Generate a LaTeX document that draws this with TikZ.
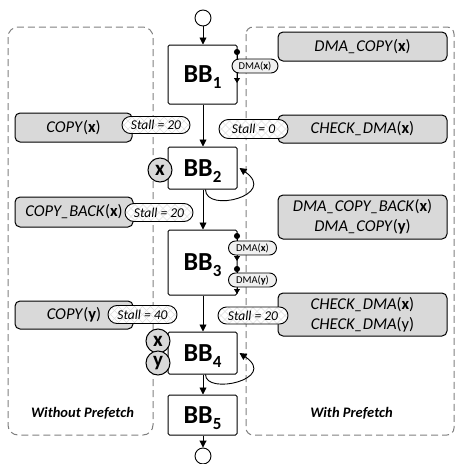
\documentclass[tikz,border=0pt]{standalone}
\usepackage{fontspec}
\setmainfont{Carlito}
\usetikzlibrary{arrows.meta,shapes.misc,calc}
\definecolor{boxgray}{HTML}{D9D9D9}
\definecolor{pillgray}{HTML}{F0F0F0}
\definecolor{dashgray}{HTML}{808080}
\newcommand{\bbsub}[1]{\raisebox{-6pt}[0pt][0pt]{\fontsize{17}{17}\selectfont #1}}
\begin{document}
\begin{tikzpicture}[x=1pt,y=1pt,
  arr/.style={line width=0.9pt,-{Triangle[length=7pt,width=7pt]}},
  dmaarr/.style={line width=0.9pt,{Circle[length=6pt]}-{Triangle[length=5pt,width=6pt]}},
  bbbox/.style={draw,line width=1pt,rounded corners=1.5pt,minimum width=69pt,inner sep=0pt,
    font=\fontsize{26}{26}\selectfont\bfseries},
  graybox/.style={draw,line width=1pt,fill=boxgray,rounded corners=5pt,inner sep=0pt,
    align=center,font=\fontsize{16.5}{20}\selectfont},
  stallpill/.style={draw,line width=0.9pt,rounded rectangle,fill=white,inner sep=0pt,
    minimum height=18pt,minimum width=68pt,font=\fontsize{13.5}{14}\selectfont\itshape,
    path picture={\foreach \k in {-96,-88,...,96}{\draw[black!12,line width=0.5pt]
      ([shift={(\k-12,-12)}]path picture bounding box.center) -- ++(24,24)
      ([shift={(\k-12,12)}]path picture bounding box.center) -- ++(24,-24);}}},
  dmapill/.style={draw,line width=0.9pt,rounded rectangle,fill=pillgray,inner sep=0pt,
    minimum height=14pt,minimum width=48pt,font=\fontsize{10.5}{11}\selectfont},
  varcirc/.style={draw,line width=1pt,circle,fill=boxgray,minimum size=24pt,inner sep=0pt,
    font=\fontsize{21}{21}\selectfont\bfseries},
  endcirc/.style={draw,line width=0.9pt,circle,fill=white,minimum size=16pt,inner sep=0pt},
  region/.style={draw=dashgray,line width=1pt,dash pattern=on 7pt off 4pt},
  regionlabel/.style={font=\fontsize{14.5}{15}\selectfont\bfseries\itshape}
]
\useasboundingbox (0,0) rectangle (455,-464);
\clip (0,0) rectangle (455,-464);

% regions
\draw[region,rounded corners=10pt] (8,-27) rectangle (153,-435);
\draw[region,rounded corners=7pt] (246,-27) rectangle (454,-435);
\node[regionlabel] (lwo) at (82.5,-413) {Without Prefetch};
\node[regionlabel] (lw) at (351.5,-413) {With Prefetch};

% basic blocks
\node[bbbox,minimum height=59pt] (BB1) at (202.5,-74.5) {BB\bbsub{1}};
\node[bbbox,minimum height=42pt] (BB2) at (202.5,-168) {BB\bbsub{2}};
\node[bbbox,minimum height=65pt] (BB3) at (202.5,-262.5) {BB\bbsub{3}};
\node[bbbox,minimum height=42pt] (BB4) at (202.5,-353) {BB\bbsub{4}};
\node[bbbox,minimum height=40pt] (BB5) at (202.5,-415) {BB\bbsub{5}};
\node[endcirc] (top) at (203,-18) {};
\node[endcirc] (bot) at (203,-456) {};

% main flow
\draw[arr] (top) -- (top |- BB1.north);
\draw[arr] (BB1.south -| top) -- (BB2.north -| top);
\draw[arr] (BB2.south -| top) -- (BB3.north -| top);
\draw[arr] (BB3.south -| top) -- (BB4.north -| top);
\draw[arr] (BB4.south -| top) -- (BB5.north -| top);
\draw[arr] (BB5.south -| top) -- (bot);

% self loops
\draw[arr] ($(BB2.south)+(3,0)$) .. controls ($(BB2.south)+(3,-24)$) and ($(BB2.east)+(41,-27)$) .. ($(BB2.east)+(2,0)$);
\draw[arr] ($(BB4.south)+(3,0)$) .. controls ($(BB4.south)+(3,-21)$) and ($(BB4.east)+(41,-26)$) .. ($(BB4.east)+(2,0)$);

% DMA transfers
\coordinate (d1s) at (237,-49);
\coordinate (d1e) at (237,-83);
\coordinate (d2s) at (237,-233);
\coordinate (d2e) at (237,-261);
\coordinate (d3s) at (237,-266);
\coordinate (d3e) at (237,-294);
\draw[dmaarr] (d1s) -- (d1e);
\draw[dmaarr] (d2s) -- (d2e);
\draw[dmaarr] (d3s) -- (d3e);

% gray operation boxes
\node[graybox,minimum width=117pt,minimum height=29pt] (cpx) at (73.5,-127.5) {\textit{COPY}(\textbf{x})};
\node[graybox,minimum width=118pt,minimum height=30pt] (cpbx) at (74,-212) {\textit{COPY\_BACK}(\textbf{x})};
\node[graybox,minimum width=118pt,minimum height=28pt] (cpy) at (74,-315) {\textit{COPY}(\textbf{y})};
\node[graybox,minimum width=169pt,minimum height=29pt] (dcx) at (362.5,-46.5) {\textit{DMA\_COPY}(\textbf{x})};
\node[graybox,minimum width=169pt,minimum height=28pt] (chx) at (362.5,-129) {\textit{CHECK\_DMA}(\textbf{x})};
\node[graybox,minimum width=169pt,minimum height=44pt] (dcb) at (362.5,-217) {\textit{DMA\_COPY\_BACK}(\textbf{x})\\\textit{DMA\_COPY}(\textbf{y})};
\node[graybox,minimum width=169pt,minimum height=43pt] (chxy) at (362.5,-314.5) {\textit{CHECK\_DMA}(\textbf{x})\\\textit{CHECK\_DMA}(y)};

% DMA pills
\node[dmapill,minimum width=46pt] (p1) at (255,-66) {DMA(\textbf{x})};
\node[dmapill] (p2) at (252.5,-248) {DMA(\textbf{x})};
\node[dmapill] (p3) at (252.5,-280) {DMA(\textbf{y})};

% stall pills
\node[stallpill,minimum height=17pt] (s1) at (156,-125) {Stall = 20};
\node[stallpill] (s2) at (159,-212.5) {Stall = 20};
\node[stallpill,minimum width=69pt] (s3) at (142.5,-314.5) {Stall = 40};
\node[stallpill,minimum width=69pt,minimum height=19pt] (s4) at (253.5,-129) {Stall = 0};
\node[stallpill,minimum width=70pt,minimum height=17pt] (s5) at (253,-315.5) {Stall = 20};

% variable circles
\node[varcirc] (v2x) at (160,-170) {x};
\node[varcirc] (v4x) at (158,-341) {x};
\node[varcirc] (v4y) at (158,-363) {y};
\end{tikzpicture}
\end{document}
